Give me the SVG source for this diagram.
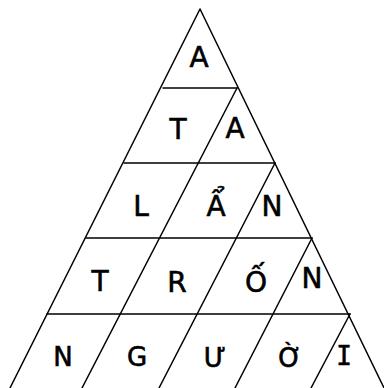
<svg xmlns="http://www.w3.org/2000/svg" width="384" height="388" viewBox="0 0 384 388">
<style>
.ln{stroke:#000;stroke-width:1.5;fill:none;stroke-linecap:round;stroke-linejoin:round}
.t{font-family:"DejaVu Sans","Liberation Sans",sans-serif;font-size:28px;fill:#000;stroke:#000;stroke-width:0.6;text-anchor:middle}
.s{font-size:26px}
.m{font-family:"DejaVu Sans Mono","Liberation Mono",monospace}
</style>
<rect width="384" height="388" fill="#fff"/>
<g id="grid" class="ln">
<path d="M10,388 L200,9 L386,392"/>
<path d="M163,88 H237 M124,163 H275 M86,238 H312 M47,314 H350"/>
<path d="M237,88 L82,388 M275,163 L159,388 M312,238 L235,388 M350,314 L311,388"/>
</g>
<g id="letters">
<text id="r1a" class="t" x="199" y="67">A</text>
<text id="r2t" class="t" x="178" y="139">T</text>
<text id="r2a" class="t" x="235" y="138">A</text>
<text id="r3l" class="t" x="141" y="216">L</text>
<text id="r3a" class="t" x="216" y="216">Ẩ</text>
<text id="r3n" class="t" x="272" y="216">N</text>
<text id="r4t" class="t" x="100" y="291">T</text>
<text id="r4r" class="t" x="177" y="292">R</text>
<text id="r4o" class="t" x="256" y="292">Ố</text>
<text id="r4n" class="t" x="312" y="288">N</text>
<text id="r5n" class="t s" x="63" y="366">N</text>
<text id="r5g" class="t s" x="137" y="366">G</text>
<text id="r5u" class="t s" x="215" y="367">Ư</text>
<text id="r5o" class="t s" x="290" y="367">Ờ</text>
<text id="r5i" class="t s m" x="344" y="365">I</text>
</g>
</svg>
